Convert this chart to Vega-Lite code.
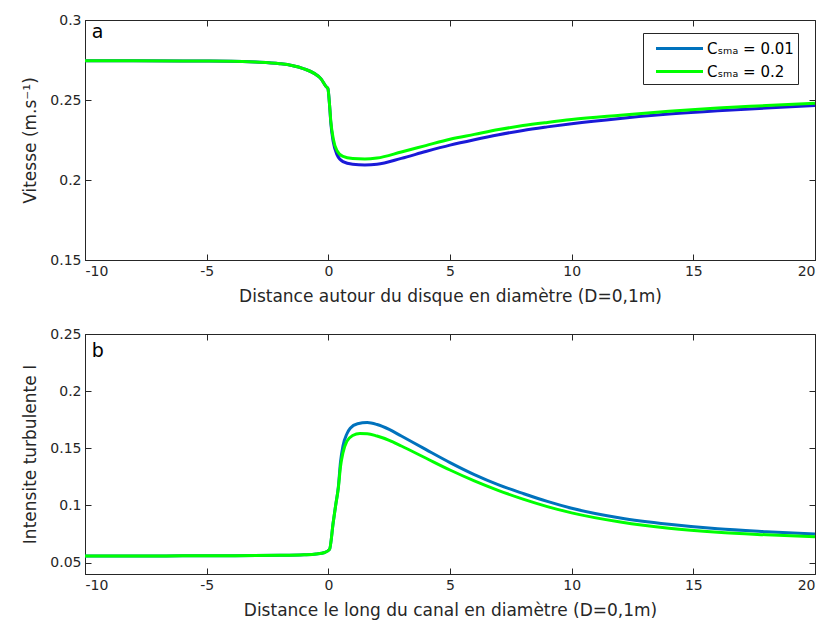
{
  "$schema": "https://vega.github.io/schema/vega-lite/v6.json",
  "padding": {"top": 12, "left": 21, "right": 5, "bottom": 5},
  "background": "white",
  "spacing": 21,
  "config": {
    "font": "DejaVu Sans",
    "view": {"stroke": "#262626", "strokeWidth": 1},
    "axis": {
      "labelFont": "DejaVu Sans", "labelFontSize": 14, "labelColor": "#262626",
      "titleFont": "DejaVu Sans", "titleFontSize": 17, "titleFontWeight": "normal", "titleColor": "#262626",
      "domainColor": "#262626", "tickColor": "#262626", "grid": false,
      "tickSize": -6, "labelPadding": 10
    },
    "legend": {"labelFont": "DejaVu Sans"}
  },
  "datasets": {
    "top": [
      {"x": -10, "v": 0.2745, "series": "Cₛₘₐ = 0.01"},
      {"x": -8, "v": 0.2745, "series": "Cₛₘₐ = 0.01"},
      {"x": -6, "v": 0.2744, "series": "Cₛₘₐ = 0.01"},
      {"x": -4, "v": 0.2742, "series": "Cₛₘₐ = 0.01"},
      {"x": -3, "v": 0.2737, "series": "Cₛₘₐ = 0.01"},
      {"x": -2, "v": 0.2727, "series": "Cₛₘₐ = 0.01"},
      {"x": -1.5, "v": 0.2716, "series": "Cₛₘₐ = 0.01"},
      {"x": -1, "v": 0.2695, "series": "Cₛₘₐ = 0.01"},
      {"x": -0.6, "v": 0.2668, "series": "Cₛₘₐ = 0.01"},
      {"x": -0.3, "v": 0.2632, "series": "Cₛₘₐ = 0.01"},
      {"x": -0.1, "v": 0.2585, "series": "Cₛₘₐ = 0.01"},
      {"x": -0.02, "v": 0.2572, "series": "Cₛₘₐ = 0.01"},
      {"x": 0.05, "v": 0.247, "series": "Cₛₘₐ = 0.01"},
      {"x": 0.1, "v": 0.236, "series": "Cₛₘₐ = 0.01"},
      {"x": 0.2, "v": 0.224, "series": "Cₛₘₐ = 0.01"},
      {"x": 0.35, "v": 0.216, "series": "Cₛₘₐ = 0.01"},
      {"x": 0.6, "v": 0.2115, "series": "Cₛₘₐ = 0.01"},
      {"x": 1.0, "v": 0.2098, "series": "Cₛₘₐ = 0.01"},
      {"x": 1.5, "v": 0.2094, "series": "Cₛₘₐ = 0.01"},
      {"x": 2, "v": 0.2098, "series": "Cₛₘₐ = 0.01"},
      {"x": 3, "v": 0.2135, "series": "Cₛₘₐ = 0.01"},
      {"x": 4, "v": 0.2178, "series": "Cₛₘₐ = 0.01"},
      {"x": 5, "v": 0.2218, "series": "Cₛₘₐ = 0.01"},
      {"x": 6, "v": 0.2252, "series": "Cₛₘₐ = 0.01"},
      {"x": 7, "v": 0.2283, "series": "Cₛₘₐ = 0.01"},
      {"x": 8, "v": 0.231, "series": "Cₛₘₐ = 0.01"},
      {"x": 9, "v": 0.2332, "series": "Cₛₘₐ = 0.01"},
      {"x": 10, "v": 0.2352, "series": "Cₛₘₐ = 0.01"},
      {"x": 12, "v": 0.2385, "series": "Cₛₘₐ = 0.01"},
      {"x": 14, "v": 0.2412, "series": "Cₛₘₐ = 0.01"},
      {"x": 16, "v": 0.2433, "series": "Cₛₘₐ = 0.01"},
      {"x": 18, "v": 0.245, "series": "Cₛₘₐ = 0.01"},
      {"x": 20, "v": 0.2465, "series": "Cₛₘₐ = 0.01"},
      {"x": -10, "v": 0.2745, "series": "Cₛₘₐ = 0.2"},
      {"x": -8, "v": 0.2745, "series": "Cₛₘₐ = 0.2"},
      {"x": -6, "v": 0.2744, "series": "Cₛₘₐ = 0.2"},
      {"x": -4, "v": 0.2742, "series": "Cₛₘₐ = 0.2"},
      {"x": -3, "v": 0.2737, "series": "Cₛₘₐ = 0.2"},
      {"x": -2, "v": 0.2727, "series": "Cₛₘₐ = 0.2"},
      {"x": -1.5, "v": 0.2716, "series": "Cₛₘₐ = 0.2"},
      {"x": -1, "v": 0.2695, "series": "Cₛₘₐ = 0.2"},
      {"x": -0.6, "v": 0.2668, "series": "Cₛₘₐ = 0.2"},
      {"x": -0.3, "v": 0.2632, "series": "Cₛₘₐ = 0.2"},
      {"x": -0.1, "v": 0.2585, "series": "Cₛₘₐ = 0.2"},
      {"x": -0.02, "v": 0.2572, "series": "Cₛₘₐ = 0.2"},
      {"x": 0.05, "v": 0.247, "series": "Cₛₘₐ = 0.2"},
      {"x": 0.1, "v": 0.237, "series": "Cₛₘₐ = 0.2"},
      {"x": 0.2, "v": 0.226, "series": "Cₛₘₐ = 0.2"},
      {"x": 0.35, "v": 0.2185, "series": "Cₛₘₐ = 0.2"},
      {"x": 0.6, "v": 0.2147, "series": "Cₛₘₐ = 0.2"},
      {"x": 1.0, "v": 0.2134, "series": "Cₛₘₐ = 0.2"},
      {"x": 1.5, "v": 0.2131, "series": "Cₛₘₐ = 0.2"},
      {"x": 2, "v": 0.2137, "series": "Cₛₘₐ = 0.2"},
      {"x": 3, "v": 0.2175, "series": "Cₛₘₐ = 0.2"},
      {"x": 4, "v": 0.2215, "series": "Cₛₘₐ = 0.2"},
      {"x": 5, "v": 0.2255, "series": "Cₛₘₐ = 0.2"},
      {"x": 6, "v": 0.2285, "series": "Cₛₘₐ = 0.2"},
      {"x": 7, "v": 0.2315, "series": "Cₛₘₐ = 0.2"},
      {"x": 8, "v": 0.234, "series": "Cₛₘₐ = 0.2"},
      {"x": 9, "v": 0.236, "series": "Cₛₘₐ = 0.2"},
      {"x": 10, "v": 0.2378, "series": "Cₛₘₐ = 0.2"},
      {"x": 12, "v": 0.2405, "series": "Cₛₘₐ = 0.2"},
      {"x": 14, "v": 0.243, "series": "Cₛₘₐ = 0.2"},
      {"x": 16, "v": 0.245, "series": "Cₛₘₐ = 0.2"},
      {"x": 18, "v": 0.2465, "series": "Cₛₘₐ = 0.2"},
      {"x": 20, "v": 0.248, "series": "Cₛₘₐ = 0.2"}
    ],
    "bottom": [
      {"x": -10, "v": 0.0558, "series": "Cₛₘₐ = 0.01"},
      {"x": -8, "v": 0.0558, "series": "Cₛₘₐ = 0.01"},
      {"x": -6, "v": 0.0559, "series": "Cₛₘₐ = 0.01"},
      {"x": -4, "v": 0.056, "series": "Cₛₘₐ = 0.01"},
      {"x": -2, "v": 0.0563, "series": "Cₛₘₐ = 0.01"},
      {"x": -1, "v": 0.0568, "series": "Cₛₘₐ = 0.01"},
      {"x": -0.5, "v": 0.0575, "series": "Cₛₘₐ = 0.01"},
      {"x": -0.15, "v": 0.0588, "series": "Cₛₘₐ = 0.01"},
      {"x": 0.05, "v": 0.0615, "series": "Cₛₘₐ = 0.01"},
      {"x": 0.2, "v": 0.085, "series": "Cₛₘₐ = 0.01"},
      {"x": 0.3, "v": 0.1, "series": "Cₛₘₐ = 0.01"},
      {"x": 0.41, "v": 0.116, "series": "Cₛₘₐ = 0.01"},
      {"x": 0.5, "v": 0.138, "series": "Cₛₘₐ = 0.01"},
      {"x": 0.6, "v": 0.152, "series": "Cₛₘₐ = 0.01"},
      {"x": 0.76, "v": 0.1625, "series": "Cₛₘₐ = 0.01"},
      {"x": 0.9, "v": 0.1675, "series": "Cₛₘₐ = 0.01"},
      {"x": 1.2, "v": 0.1715, "series": "Cₛₘₐ = 0.01"},
      {"x": 1.6, "v": 0.1725, "series": "Cₛₘₐ = 0.01"},
      {"x": 2, "v": 0.1708, "series": "Cₛₘₐ = 0.01"},
      {"x": 2.5, "v": 0.1665, "series": "Cₛₘₐ = 0.01"},
      {"x": 3, "v": 0.1607, "series": "Cₛₘₐ = 0.01"},
      {"x": 4, "v": 0.149, "series": "Cₛₘₐ = 0.01"},
      {"x": 5, "v": 0.1375, "series": "Cₛₘₐ = 0.01"},
      {"x": 6, "v": 0.127, "series": "Cₛₘₐ = 0.01"},
      {"x": 7, "v": 0.118, "series": "Cₛₘₐ = 0.01"},
      {"x": 8, "v": 0.1105, "series": "Cₛₘₐ = 0.01"},
      {"x": 9, "v": 0.1035, "series": "Cₛₘₐ = 0.01"},
      {"x": 10, "v": 0.0975, "series": "Cₛₘₐ = 0.01"},
      {"x": 12, "v": 0.089, "series": "Cₛₘₐ = 0.01"},
      {"x": 14, "v": 0.0835, "series": "Cₛₘₐ = 0.01"},
      {"x": 16, "v": 0.0795, "series": "Cₛₘₐ = 0.01"},
      {"x": 18, "v": 0.077, "series": "Cₛₘₐ = 0.01"},
      {"x": 20, "v": 0.075, "series": "Cₛₘₐ = 0.01"},
      {"x": -10, "v": 0.0558, "series": "Cₛₘₐ = 0.2"},
      {"x": -8, "v": 0.0558, "series": "Cₛₘₐ = 0.2"},
      {"x": -6, "v": 0.0559, "series": "Cₛₘₐ = 0.2"},
      {"x": -4, "v": 0.056, "series": "Cₛₘₐ = 0.2"},
      {"x": -2, "v": 0.0563, "series": "Cₛₘₐ = 0.2"},
      {"x": -1, "v": 0.0568, "series": "Cₛₘₐ = 0.2"},
      {"x": -0.5, "v": 0.0575, "series": "Cₛₘₐ = 0.2"},
      {"x": -0.15, "v": 0.0588, "series": "Cₛₘₐ = 0.2"},
      {"x": 0.05, "v": 0.0615, "series": "Cₛₘₐ = 0.2"},
      {"x": 0.2, "v": 0.085, "series": "Cₛₘₐ = 0.2"},
      {"x": 0.3, "v": 0.1, "series": "Cₛₘₐ = 0.2"},
      {"x": 0.41, "v": 0.115, "series": "Cₛₘₐ = 0.2"},
      {"x": 0.5, "v": 0.134, "series": "Cₛₘₐ = 0.2"},
      {"x": 0.6, "v": 0.146, "series": "Cₛₘₐ = 0.2"},
      {"x": 0.76, "v": 0.156, "series": "Cₛₘₐ = 0.2"},
      {"x": 1.0, "v": 0.1612, "series": "Cₛₘₐ = 0.2"},
      {"x": 1.3, "v": 0.163, "series": "Cₛₘₐ = 0.2"},
      {"x": 1.6, "v": 0.1628, "series": "Cₛₘₐ = 0.2"},
      {"x": 2, "v": 0.1607, "series": "Cₛₘₐ = 0.2"},
      {"x": 2.5, "v": 0.157, "series": "Cₛₘₐ = 0.2"},
      {"x": 3, "v": 0.152, "series": "Cₛₘₐ = 0.2"},
      {"x": 4, "v": 0.1415, "series": "Cₛₘₐ = 0.2"},
      {"x": 5, "v": 0.131, "series": "Cₛₘₐ = 0.2"},
      {"x": 6, "v": 0.1215, "series": "Cₛₘₐ = 0.2"},
      {"x": 7, "v": 0.113, "series": "Cₛₘₐ = 0.2"},
      {"x": 8, "v": 0.1055, "series": "Cₛₘₐ = 0.2"},
      {"x": 9, "v": 0.099, "series": "Cₛₘₐ = 0.2"},
      {"x": 10, "v": 0.0935, "series": "Cₛₘₐ = 0.2"},
      {"x": 12, "v": 0.0855, "series": "Cₛₘₐ = 0.2"},
      {"x": 14, "v": 0.08, "series": "Cₛₘₐ = 0.2"},
      {"x": 16, "v": 0.0765, "series": "Cₛₘₐ = 0.2"},
      {"x": 18, "v": 0.0743, "series": "Cₛₘₐ = 0.2"},
      {"x": 20, "v": 0.0725, "series": "Cₛₘₐ = 0.2"}
    ],
    "labelA": [{"x": -9.72, "v": 0.2925, "t": "a"}],
    "labelB": [{"x": -9.72, "v": 0.2355, "t": "b"}]
  },
  "vconcat": [
    {
      "width": 730,
      "height": 240,
      "resolve": {"axis": {"x": "independent", "y": "independent"}},
      "layer": [
        {
          "data": {"name": "top"},
          "transform": [{"filter": "datum.series === 'Cₛₘₐ = 0.01'"}],
          "mark": {"type": "line", "strokeWidth": 3, "interpolate": "monotone", "color": "#1a1ad8"},
          "encoding": {
            "x": {"field": "x", "type": "quantitative", "scale": {"domain": [-10, 20], "nice": false},
                  "axis": {"values": [-10, -5, 0, 5, 10, 15, 20], "labelExpr": "datum.value + ''", "title": "Distance autour du disque en diamètre (D=0,1m)", "titlePadding": 10}},
            "y": {"field": "v", "type": "quantitative", "scale": {"domain": [0.15, 0.3], "nice": false, "zero": false},
                  "axis": {"values": [0.15, 0.2, 0.25, 0.3], "format": ".2~f", "title": "Vitesse (m.s⁻¹)", "titlePadding": 10}}
          }
        },
        {
          "data": {"name": "top"},
          "transform": [{"filter": "datum.series === 'Cₛₘₐ = 0.2'"}],
          "mark": {"type": "line", "strokeWidth": 3, "interpolate": "monotone", "color": "#00ff00"},
          "encoding": {
            "x": {"field": "x", "type": "quantitative", "axis": null},
            "y": {"field": "v", "type": "quantitative", "axis": null}
          }
        },
        {
          "data": {"name": "top"},
          "mark": {"type": "point", "opacity": 0, "filled": false},
          "encoding": {
            "x": {"field": "x", "type": "quantitative", "axis": null},
            "y": {"field": "v", "type": "quantitative", "axis": null},
            "color": {"field": "series", "type": "nominal",
                      "scale": {"domain": ["Cₛₘₐ = 0.01", "Cₛₘₐ = 0.2"], "range": ["#0072bd", "#00ff00"]},
                      "legend": {"title": null, "orient": "none", "legendX": 558, "legendY": 13,
                                 "strokeColor": "#262626", "fillColor": "white", "padding": 4,
                                 "labelFontSize": 15, "labelColor": "#000000", "labelLimit": 200,
                                 "symbolType": "M-2.35,0H2.35", "symbolSize": 400, "symbolStrokeWidth": 3,
                                 "symbolOpacity": 1, "rowPadding": 3, "symbolOffset": 21, "labelOffset": 16,
                                 "encode": {"symbols": {"update": {"opacity": {"value": 1}, "strokeOpacity": {"value": 1}}}}}}
          }
        },
        {
          "data": {"name": "labelA"},
          "mark": {"type": "text", "fontSize": 19, "align": "left", "baseline": "middle", "color": "#000000"},
          "encoding": {
            "x": {"field": "x", "type": "quantitative",
                  "axis": {"orient": "top", "values": [-10, -5, 0, 5, 10, 15, 20], "labels": false, "title": null, "domain": false}},
            "y": {"field": "v", "type": "quantitative",
                  "axis": {"orient": "right", "values": [0.15, 0.2, 0.25, 0.3], "labels": false, "title": null, "domain": false}},
            "text": {"field": "t"}
          }
        }
      ]
    },
    {
      "width": 730,
      "height": 240,
      "resolve": {"axis": {"x": "independent", "y": "independent"}},
      "layer": [
        {
          "data": {"name": "bottom"},
          "mark": {"type": "line", "strokeWidth": 3, "interpolate": "monotone"},
          "encoding": {
            "x": {"field": "x", "type": "quantitative", "scale": {"domain": [-10, 20], "nice": false},
                  "axis": {"values": [-10, -5, 0, 5, 10, 15, 20], "labelExpr": "datum.value + ''", "title": "Distance le long du canal en diamètre (D=0,1m)", "titlePadding": 10}},
            "y": {"field": "v", "type": "quantitative", "scale": {"domain": [0.04, 0.25], "nice": false, "zero": false},
                  "axis": {"values": [0.05, 0.1, 0.15, 0.2, 0.25], "format": ".2~f", "title": "Intensite turbulente I", "titlePadding": 10}},
            "color": {"field": "series", "type": "nominal",
                      "scale": {"domain": ["Cₛₘₐ = 0.01", "Cₛₘₐ = 0.2"], "range": ["#0072bd", "#00ff00"]},
                      "legend": null}
          }
        },
        {
          "data": {"name": "labelB"},
          "mark": {"type": "text", "fontSize": 19, "align": "left", "baseline": "middle", "color": "#000000"},
          "encoding": {
            "x": {"field": "x", "type": "quantitative",
                  "axis": {"orient": "top", "values": [-10, -5, 0, 5, 10, 15, 20], "labels": false, "title": null, "domain": false}},
            "y": {"field": "v", "type": "quantitative",
                  "axis": {"orient": "right", "values": [0.05, 0.1, 0.15, 0.2, 0.25], "labels": false, "title": null, "domain": false}},
            "text": {"field": "t"}
          }
        }
      ]
    }
  ]
}
